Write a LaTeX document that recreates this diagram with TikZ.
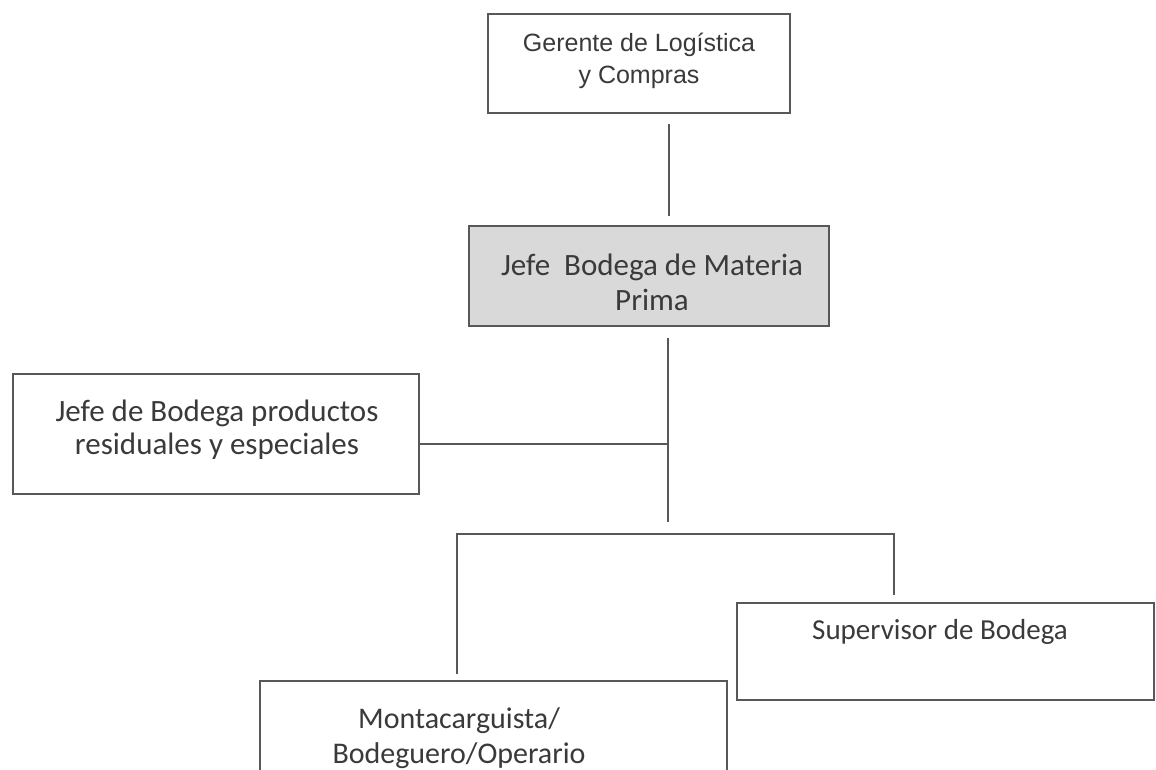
\documentclass[tikz,border=0pt]{standalone}
\usepackage{fontspec}
\setmainfont{Carlito}
\newfontfamily\arialfont{Liberation Sans}
\definecolor{linec}{HTML}{5A565A}
\definecolor{txtc}{HTML}{3A3A3A}
\definecolor{boxfill}{HTML}{D9D9D9}
\tikzset{
  orgbox/.style={draw=linec, line width=1.8pt, rectangle, inner sep=0pt},
  orgtxt/.style={text=txtc, align=center, inner sep=0pt},
  conn/.style={draw=linec, line width=1.8pt}
}
\begin{document}
\begin{tikzpicture}[x=1pt,y=-1pt]
\clip (0,0) rectangle (1156,770);
\fill[white] (0,0) rectangle (1156,770);
% boxes
\node[orgbox, minimum width=302pt, minimum height=99pt] (b1) at (639,63.5) {};
\node[orgbox, fill=boxfill, minimum width=360pt, minimum height=100pt] (b2) at (649,276) {};
\node[orgbox, minimum width=406pt, minimum height=120pt] (b3) at (216,434) {};
\node[orgbox, minimum width=417pt, minimum height=97pt] (b4) at (945.5,651.5) {};
\node[orgbox, minimum width=467pt, minimum height=110pt] (b5) at (493.5,736) {};
% texts
\node[orgtxt, font=\arialfont\fontsize{25}{32}\selectfont] (t1) at (639,61) {Gerente de Log\'istica\\y Compras};
\node[orgtxt, font=\fontsize{31}{35}\selectfont] (t2) at (652,282) {Jefe\ \ Bodega de Materia\\Prima};
\node[orgtxt, font=\fontsize{31}{33}\selectfont] (t3) at (217,430) {Jefe de Bodega productos\\residuales y especiales};
\node[orgtxt, font=\fontsize{29}{35}\selectfont] (t4) at (940,632) {Supervisor de Bodega};
\node[orgtxt, font=\fontsize{30}{35}\selectfont] (t5) at (459,738) {Montacarguista/\\Bodeguero/Operario};
% connectors
\coordinate (trunkend) at (668,522);
\coordinate (bar) at (668,534);
\draw[conn] ([xshift=30pt,yshift=-10pt]b1.south) -- ([xshift=30pt,yshift=9pt]b1.south |- b2.north);
\draw[conn] ([xshift=19pt,yshift=-11pt]b2.south) -- (trunkend);
\draw[conn] ([yshift=-10pt]b3.east) -- ([yshift=-10pt]b3.east -| trunkend);
\draw[conn] ([xshift=-36.5pt,yshift=6pt]b5.north) |- (bar) -| ([xshift=-51.5pt,yshift=7pt]b4.north);
\end{tikzpicture}
\end{document}
